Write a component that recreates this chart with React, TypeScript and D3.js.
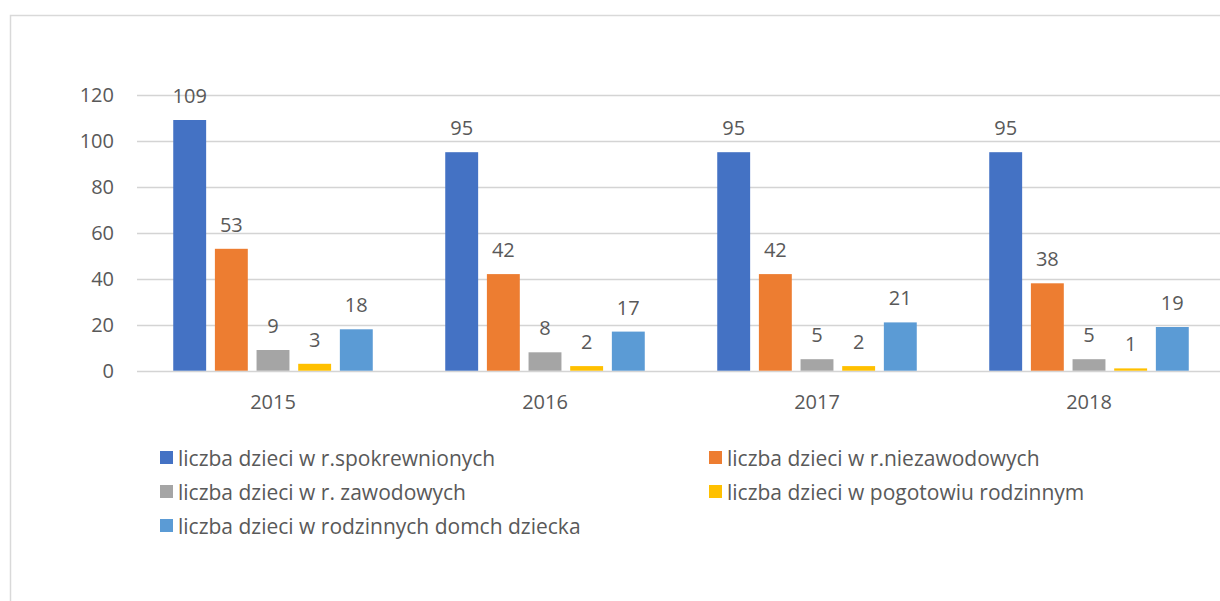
import React, { useEffect, useRef } from "react";
import * as d3 from "d3";

const years = ["2015", "2016", "2017", "2018"];
const seriesNames = [
  "liczba dzieci w r.spokrewnionych",
  "liczba dzieci w r.niezawodowych",
  "liczba dzieci w r. zawodowych",
  "liczba dzieci w pogotowiu rodzinnym",
  "liczba dzieci w rodzinnych domch dziecka"
];
const spokrewnione = [109, 95, 95, 95];
const niezawodowe = [53, 42, 42, 38];
const zawodowe = [9, 8, 5, 5];
const pogotowie = [3, 2, 2, 1];
const domyDziecka = [18, 17, 21, 19];
const yTicks = [0, 20, 40, 60, 80, 100, 120];
const colors = ["#4472C4", "#ED7D31", "#A5A5A5", "#FFC000", "#5B9BD5"];

export default function App() {
  const ref = useRef<SVGSVGElement>(null);

  useEffect(() => {
    drawChart();
  });

  const drawChart = () => {
    const svg = d3.select(ref.current);
    svg.selectAll("*").remove();

    const values = [spokrewnione, niezawodowe, zawodowe, pogotowie, domyDziecka];
    const font = "'Open Sans', sans-serif";
    const textColor = "#595959";

    // chart frame
    svg
      .append("rect")
      .attr("x", 10.5)
      .attr("y", 15.5)
      .attr("width", 1240)
      .attr("height", 620)
      .attr("fill", "#fff")
      .attr("stroke", "#d9d9d9")
      .attr("stroke-width", 1.5);

    const left = 137;
    const right = 1225;
    const x0 = d3.scaleBand().domain(years).range([left, right]).padding(0);
    const x1 = d3
      .scaleBand()
      .domain(seriesNames)
      .range([0, x0.bandwidth()])
      .paddingInner(0.21)
      .paddingOuter(0.87);
    const y = d3.scaleLinear().domain([0, 120]).range([370.7, 94.7]);

    const g = svg.append("g");

    // gridlines
    g.selectAll("line.grid")
      .data(yTicks)
      .join("line")
      .attr("class", "grid")
      .attr("x1", left)
      .attr("x2", right)
      .attr("y1", d => Math.round(y(d)) + 0.5)
      .attr("y2", d => Math.round(y(d)) + 0.5)
      .attr("stroke", "#d4d4d4")
      .attr("stroke-width", 1.5);

    // y labels
    g.selectAll("text.ytick")
      .data(yTicks)
      .join("text")
      .attr("class", "ytick")
      .attr("x", 114)
      .attr("y", d => y(d) + 7)
      .attr("text-anchor", "end")
      .attr("font-family", font)
      .attr("font-size", 20)
      .attr("fill", textColor)
      .text(d => d);

    // bars
    values.forEach((vals, si) => {
      const name = seriesNames[si];
      g.append("g")
        .selectAll("rect")
        .data(vals)
        .join("rect")
        .attr("x", (d, i) => x0(years[i])! + x1(name)!)
        .attr("y", d => y(d))
        .attr("width", x1.bandwidth())
        .attr("height", d => y(0) - y(d))
        .attr("fill", colors[si]);

      g.append("g")
        .selectAll("text")
        .data(vals)
        .join("text")
        .attr("x", (d, i) => x0(years[i])! + x1(name)! + x1.bandwidth() / 2)
        .attr("y", d => y(d) - 17)
        .attr("text-anchor", "middle")
        .attr("font-family", font)
        .attr("font-size", 20)
        .attr("fill", textColor)
        .text(d => d);
    });

    // x labels
    g.selectAll("text.xtick")
      .data(years)
      .join("text")
      .attr("class", "xtick")
      .attr("x", d => x0(d)! + x0.bandwidth() / 2)
      .attr("y", 409)
      .attr("text-anchor", "middle")
      .attr("font-family", font)
      .attr("font-size", 20)
      .attr("fill", textColor)
      .text(d => d);

    // legend
    const legendPos = [
      [160, 458],
      [709, 458],
      [160, 492],
      [709, 492],
      [160, 526]
    ];
    const legend = svg
      .append("g")
      .selectAll("g")
      .data(seriesNames)
      .join("g")
      .attr("transform", (d, i) => "translate(" + legendPos[i][0] + "," + legendPos[i][1] + ")");
    legend
      .append("rect")
      .attr("x", 0)
      .attr("y", -7)
      .attr("width", 13)
      .attr("height", 13)
      .attr("fill", (d, i) => colors[i]);
    legend
      .append("text")
      .attr("x", 18)
      .attr("y", 7.5)
      .attr("font-family", font)
      .attr("font-size", 21)
      .attr("fill", textColor)
      .text(d => d);
  };

  return (
    <div style={{ position: "absolute", left: 0, top: 0 }}>
      <svg ref={ref} width={1220} height={601} style={{ display: "block" }} />
    </div>
  );
}
